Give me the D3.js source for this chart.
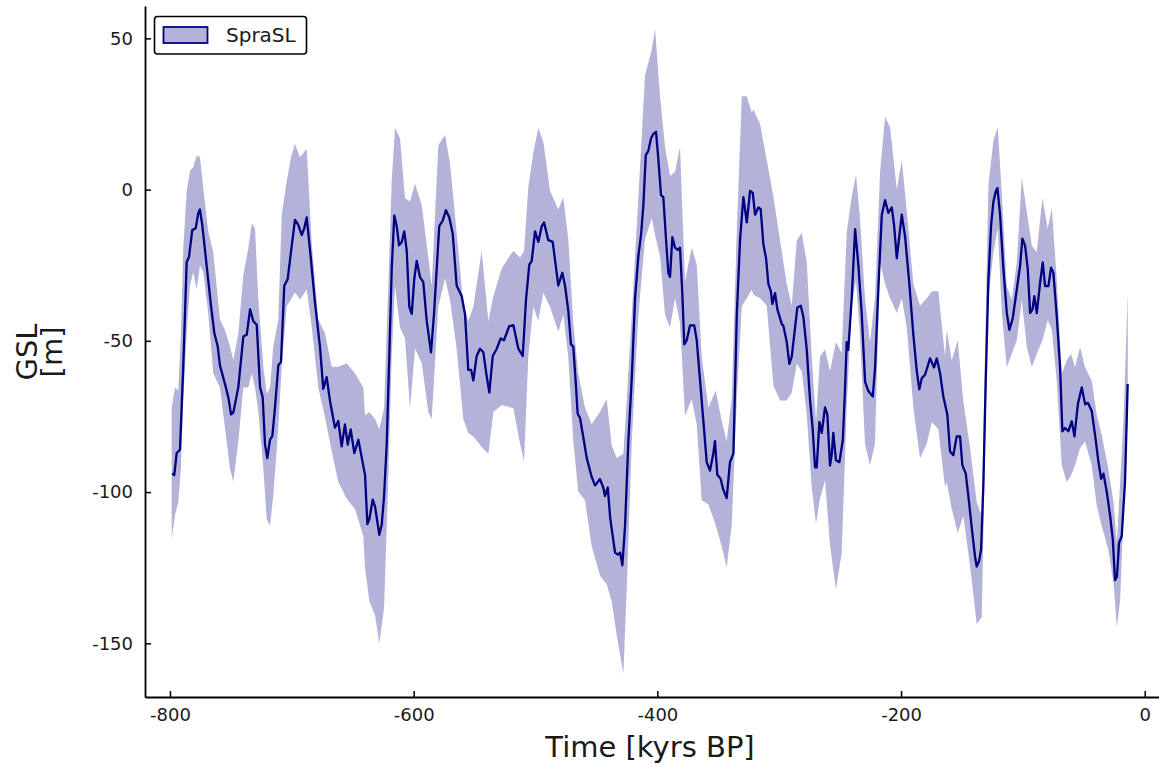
<!DOCTYPE html>
<html>
<head>
<meta charset="utf-8">
<script src="https://cdn.jsdelivr.net/npm/d3@7"></script>
<style>
  html, body { margin: 0; padding: 0; background: #ffffff; }
  svg { display: block; }
  text { font-family: "DejaVu Sans", sans-serif; }
</style>
</head>
<body>
<svg id="chart" width="1159" height="771"></svg>
<script>
// ---------------- data ----------------
const seriesName = "SpraSL";
const xLabel = "Time [kyrs BP]";
const yLabelLines = ["GSL", "[m]"];
const xTicks = [-800, -600, -400, -200, 0];
const yTicks = [50, 0, -50, -100, -150];

// central estimate of global sea level
const lineTime = [
-798.1,-796.5,-794.5,-791.8,-789.1,-786.3,-784.4,-781.7,-778.9,-776.8,-775.4,-773.5,-769.9,-766.3,-763.6,-760.8,-759.0,-754.9,-752.1,-749.9,
-748.0,-743.9,-739.8,-737.0,-734.3,-731.6,-728.8,-726.1,-723.9,-722.0,-720.1,-717.9,-716.0,-713.8,-711.1,-708.9,-706.2,-703.4,-700.7,-697.4,
-694.7,-691.9,-689.8,-687.8,-684.5,-681.0,-676.9,-674.2,-671.4,-668.7,-664.6,-661.9,-659.1,-656.4,-654.1,-651.7,-648.7,-645.4,-639.9,-638.0,
-636.4,-633.6,-631.7,-628.2,-626.2,-624.3,-622.1,-620.0,-618.0,-615.9,-613.9,-612.0,-609.8,-607.7,-605.7,-603.6,-601.6,-599.5,-597.5,-594.8,
-592.1,-589.3,-585.8,-583.3,-579.0,-576.2,-573.5,-570.8,-568.0,-564.7,-560.6,-557.9,-555.2,-552.9,-551.0,-548.3,-545.6,-542.8,-540.0,-537.9,
-535.1,-531.8,-528.6,-525.9,-521.5,-518.2,-514.1,-510.5,-507.8,-505.1,-503.1,-500.4,-497.7,-494.9,-493.0,-489.5,-485.9,-481.3,-478.0,-475.8,
-473.1,-470.9,-469.0,-467.0,-465.4,-463.5,-460.8,-458.0,-453.9,-451.2,-447.1,-444.4,-443.0,-440.7,-438.8,-436.9,-434.7,-432.5,-430.6,-428.7,
-426.5,-423.8,-421.0,-418.3,-415.6,-413.4,-411.5,-409.5,-407.4,-405.2,-403.3,-401.1,-399.2,-397.0,-395.1,-392.9,-391.0,-389.6,-387.7,-385.5,
-383.3,-381.4,-379.5,-377.9,-375.9,-373.2,-369.7,-367.7,-365.0,-362.3,-359.5,-356.8,-354.1,-352.7,-350.8,-348.0,-345.9,-343.1,-340.4,-337.6,
-334.8,-332.1,-329.4,-326.6,-323.9,-321.7,-319.8,-317.1,-315.2,-313.0,-310.8,-308.9,-306.9,-305.6,-303.4,-301.5,-297.9,-296.6,-293.8,-291.7,
-289.7,-287.0,-285.1,-282.3,-280.2,-277.4,-274.7,-272.5,-270.6,-269.2,-267.0,-265.1,-262.4,-260.5,-258.3,-256.9,-255.6,-253.4,-250.6,-247.8,
-246.0,-244.6,-243.3,-240.5,-237.7,-235.0,-232.3,-229.5,-226.8,-223.2,-221.3,-218.6,-215.8,-213.1,-210.4,-207.6,-205.7,-203.5,-199.4,-196.7,
-193.2,-189.9,-187.1,-185.0,-183.0,-180.3,-176.2,-172.9,-170.7,-168.0,-165.3,-162.0,-159.8,-157.1,-154.3,-151.6,-149.7,-146.9,-144.2,-141.5,
-139.3,-137.9,-136.0,-134.3,-132.4,-130.5,-128.3,-126.1,-124.2,-122.3,-120.9,-118.7,-116.0,-113.2,-111.1,-108.3,-105.0,-102.3,-100.4,-98.2,
-96.0,-94.1,-92.2,-90.6,-88.6,-85.9,-83.7,-81.8,-79.1,-76.9,-75.0,-72.2,-69.5,-67.6,-65.4,-62.7,-59.9,-57.7,-54.9,-51.7,
-48.9,-46.7,-43.5,-40.8,-38.0,-35.8,-33.9,-31.1,-28.4,-26.2,-24.4,-22.8,-21.1,-18.9,-16.2,-14.0
];
const lineGSL = [
-93.8,-94.4,-87.1,-86.0,-58.6,-24.0,-22.3,-13.4,-12.8,-7.8,-6.6,-11.7,-25.1,-38.5,-47.4,-51.9,-58.1,-64.2,-68.7,-74.3,
-73.7,-65.3,-48.6,-48.0,-39.6,-43.5,-44.7,-65.3,-68.7,-84.3,-88.8,-82.7,-81.5,-72.0,-58.1,-57.0,-31.8,-29.6,-20.6,-10.0,
-11.7,-15.0,-12.8,-9.2,-22.3,-37.4,-51.9,-65.9,-62.0,-69.8,-78.7,-76.5,-84.9,-77.6,-84.3,-79.3,-87.1,-82.7,-94.4,-110.6,
-109.0,-102.5,-104.8,-114.1,-110.7,-101.4,-84.0,-55.0,-26.0,-8.6,-12.1,-18.4,-17.3,-13.8,-20.2,-38.7,-41.1,-29.5,-23.6,-28.9,
-30.6,-43.4,-53.8,-41.1,-12.1,-10.3,-6.8,-9.2,-14.4,-31.8,-35.2,-41.1,-59.6,-59.6,-63.1,-55.0,-52.6,-53.8,-61.9,-67.1,
-55.0,-52.6,-49.2,-49.8,-45.1,-44.8,-52.6,-55.0,-36.4,-24.8,-23.6,-13.8,-17.3,-12.1,-10.9,-16.7,-17.3,-31.7,-27.5,-31.7,
-40.0,-51.2,-51.9,-63.7,-74.1,-75.5,-81.8,-88.7,-95.0,-97.8,-95.7,-98.5,-101.3,-98.5,-108.2,-113.8,-120.0,-120.7,-120.0,-124.2,
-111.0,-83.2,-62.3,-35.9,-22.0,-15.0,-5.3,11.4,12.8,17.0,18.4,19.1,10.1,-1.8,-2.5,-16.4,-27.5,-28.9,-15.7,-19.2,
-19.9,-19.2,-34.5,-51.2,-49.8,-44.9,-44.9,-49.8,-63.0,-76.2,-90.1,-92.9,-87.3,-83.2,-94.3,-95.7,-99.2,-102.0,-90.1,-87.3,
-41.4,-16.4,-2.5,-10.8,-0.4,-1.1,-8.3,-5.9,-6.5,-18.0,-22.7,-31.2,-33.6,-37.8,-34.2,-39.6,-44.4,-45.0,-50.4,-57.6,
-55.2,-45.6,-39.0,-38.4,-42.0,-52.8,-69.6,-79.2,-91.8,-91.8,-76.8,-80.4,-72.0,-74.4,-91.2,-87.6,-80.4,-89.5,-90.1,-82.8,
-66.0,-50.4,-53.0,-36.0,-13.1,-25.2,-40.8,-63.6,-66.6,-68.4,-58.8,-32.4,-8.3,-3.5,-7.7,-5.9,-11.9,-22.7,-8.3,-15.5,
-31.2,-48.0,-60.0,-66.0,-62.4,-61.2,-55.8,-58.8,-55.8,-60.6,-68.4,-74.4,-86.6,-87.8,-81.6,-81.6,-91.1,-93.9,-103.4,-113.5,
-121.3,-124.6,-122.9,-119.0,-96.7,-63.2,-29.7,-11.8,-4.0,-0.6,0.5,-8.4,-26.3,-40.8,-46.4,-42.5,-33.0,-25.2,-16.2,-18.5,
-26.3,-40.8,-39.7,-35.2,-40.8,-30.8,-24.1,-31.9,-31.9,-25.8,-27.4,-42.0,-58.7,-79.9,-78.8,-79.9,-76.6,-81.6,-71.0,-65.4,
-71.0,-70.5,-73.2,-81.1,-90.0,-95.6,-93.9,-100.1,-107.9,-115.7,-129.1,-128.0,-116.8,-114.6,-96.7,-64.3
];

// uncertainty band (upper and lower edges)
const bandTime = [
-798.6,-795.9,-793.2,-791.0,-789.1,-786.3,-783.6,-780.9,-778.1,-775.4,-772.7,-768.6,-764.5,-759.0,-754.9,-750.8,-748.0,-743.9,-739.8,-735.7,
-732.9,-730.2,-727.5,-723.4,-720.6,-717.9,-715.2,-711.1,-708.3,-704.2,-700.7,-697.4,-693.3,-687.8,-683.7,-678.3,-672.8,-667.3,-661.9,-655.0,
-648.2,-641.3,-640.0,-636.4,-631.7,-628.2,-624.3,-620.8,-618.0,-615.3,-611.2,-607.1,-603.0,-598.9,-593.4,-588.0,-585.2,-579.8,-574.3,-570.2,
-564.7,-559.3,-555.2,-551.0,-544.2,-538.7,-534.6,-527.7,-518.2,-512.7,-509.4,-505.9,-501.8,-497.7,-493.6,-488.1,-481.3,-477.2,-473.1,-469.0,
-464.9,-459.4,-453.9,-447.0,-441.6,-437.5,-433.4,-427.9,-425.1,-421.0,-415.6,-410.1,-404.6,-401.9,-397.8,-393.7,-389.6,-385.5,-381.4,-377.3,
-371.8,-367.7,-363.6,-358.2,-352.1,-347.2,-343.1,-339.0,-334.8,-330.7,-326.7,-322.5,-321.2,-315.7,-310.2,-304.8,-299.3,-293.8,-289.7,-285.6,
-281.5,-277.4,-273.3,-269.8,-266.5,-262.4,-258.3,-253.4,-248.7,-244.6,-240.5,-237.0,-233.7,-229.6,-225.5,-221.4,-217.2,-213.1,-209.0,-203.5,
-199.4,-195.3,-189.9,-184.4,-178.9,-174.8,-169.4,-163.9,-162.5,-158.4,-153.5,-148.9,-143.3,-137.9,-133.8,-131.0,-128.3,-124.2,-120.6,-117.3,
-113.2,-109.1,-105.0,-100.9,-96.8,-92.7,-88.6,-84.0,-79.6,-76.3,-72.2,-68.1,-64.0,-60.5,-57.2,-53.1,-49.0,-43.5,-39.4,-35.3,
-29.9,-25.6,-22.9,-20.2,-17.5,-13.9
];
const bandUpper = [
-72.0,-65.4,-66.4,-47.5,-19.4,-0.6,6.2,7.4,11.3,10.7,0.6,-13.8,-20.7,-42.9,-46.4,-51.8,-56.4,-47.5,-28.3,-19.4,
-11.1,-12.8,-36.3,-58.6,-67.6,-65.4,-51.8,-42.9,-8.3,2.8,10.7,15.1,10.7,13.5,-17.3,-42.9,-47.5,-58.6,-58.6,-57.4,
-60.7,-65.4,-74.6,-73.5,-75.8,-79.2,-72.3,-31.6,3.1,20.4,17.0,-2.8,-3.9,1.9,-5.1,-22.4,-31.8,14.6,18.1,8.8,
-14.4,-37.6,-43.4,-38.7,-20.2,-43.4,-35.3,-26.0,-20.2,-22.5,-20.2,0.8,12.3,20.4,15.8,-0.5,-6.5,-2.5,-16.4,-44.2,
-60.9,-72.0,-77.6,-73.4,-69.3,-84.5,-88.7,-87.3,-69.3,-41.4,-2.5,37.9,46.2,53.2,30.9,14.2,4.5,5.9,14.2,-30.3,
-19.2,-24.7,-55.3,-72.0,-66.5,-76.3,-83.2,-69.3,-13.6,30.9,30.9,25.4,26.5,21.7,9.7,-2.3,-16.8,-31.2,-38.4,-16.8,
-14.3,-24.0,-55.2,-76.8,-55.2,-52.8,-60.0,-50.4,-54.0,-14.3,-2.3,4.9,-9.5,-35.9,-50.4,-35.9,6.0,24.1,20.5,0.1,
9.7,-7.1,-31.2,-38.4,-35.9,-33.6,-33.6,-55.2,-46.4,-56.4,-49.8,-69.9,-85.5,-103.4,-107.9,-52.0,1.6,16.2,20.6,-1.7,
-31.9,-36.4,-24.0,3.9,-7.3,-18.5,-20.7,-2.8,-12.9,-6.2,-29.7,-60.9,-56.4,-54.3,-58.7,-52.0,-58.7,-63.2,-74.4,-81.1,
-92.2,-103.4,-116.8,-96.7,-76.6,-34.1
];
const bandLower = [
-115.6,-107.7,-103.4,-92.1,-69.7,-47.5,-31.8,-27.3,-33.0,-25.0,-27.3,-40.8,-60.7,-65.4,-78.7,-92.1,-96.6,-83.2,-65.4,-65.4,
-60.7,-65.4,-73.2,-92.1,-109.0,-111.1,-101.1,-78.7,-58.6,-38.5,-36.3,-34.0,-36.3,-33.0,-45.2,-65.4,-75.3,-86.5,-96.6,-102.2,
-105.6,-114.5,-124.5,-136.1,-140.7,-150.0,-138.4,-95.4,-55.0,-31.8,-45.7,-49.2,-72.3,-52.6,-57.3,-73.5,-75.8,-38.7,-29.5,-36.4,
-52.6,-75.8,-80.5,-81.6,-85.1,-87.4,-73.5,-71.2,-72.3,-84.0,-89.8,-55.0,-38.7,-43.4,-34.1,-38.7,-47.0,-41.4,-55.3,-83.2,
-99.9,-102.7,-117.9,-127.7,-130.5,-136.0,-147.2,-160.0,-131.8,-83.2,-41.4,-16.4,-9.4,-15.0,-22.0,-41.4,-45.6,-35.9,-44.2,-74.8,
-69.3,-77.6,-102.7,-104.0,-111.0,-117.9,-124.9,-111.0,-69.3,-38.6,-35.9,-33.1,-34.8,-35.9,-38.4,-64.8,-69.7,-69.7,-67.2,-57.6,
-60.0,-74.4,-98.4,-110.5,-102.1,-96.1,-117.7,-132.1,-120.1,-72.0,-38.4,-30.0,-48.0,-84.0,-91.2,-84.0,-24.0,-31.2,-35.9,-40.8,
-35.9,-45.6,-72.0,-88.8,-84.0,-76.8,-79.2,-98.4,-96.7,-105.6,-113.5,-107.9,-124.6,-143.6,-141.4,-85.5,-36.4,-20.7,-12.9,-40.8,
-58.7,-54.3,-49.8,-36.4,-52.0,-58.7,-54.3,-49.8,-43.1,-46.4,-63.2,-91.1,-96.7,-94.5,-91.1,-85.5,-83.2,-91.1,-104.5,-111.2,
-119.0,-130.2,-144.7,-135.8,-107.9,-74.4
];

// ---------------- drawing ----------------
const svg = d3.select("#chart");
const plot = { left: 145, right: 1159, top: 6, bottom: 697 };

const x = d3.scaleLinear().domain([-820.5, 11.7]).range([plot.left, plot.right]);
const y = d3.scaleLinear().domain([-167.75, 60.7]).range([plot.bottom, plot.top]);

const navy = "#000080";
const bandFill = "#b3b3d9";

const bandData = bandTime.map((t, i) => ({ t, u: bandUpper[i], l: bandLower[i] }));
const lineData = lineTime.map((t, i) => ({ t, v: lineGSL[i] }));

svg.append("path")
  .datum(bandData)
  .attr("fill", bandFill)
  .attr("stroke", "none")
  .attr("d", d3.area().x(d => x(d.t)).y0(d => y(d.l)).y1(d => y(d.u)));

svg.append("path")
  .datum(lineData)
  .attr("fill", "none")
  .attr("stroke", navy)
  .attr("stroke-width", 2.3)
  .attr("stroke-linejoin", "round")
  .attr("d", d3.line().x(d => x(d.t)).y(d => y(d.v)));

// axes
const fmt = d => String(d);
const gx = svg.append("g")
  .attr("transform", `translate(0,${plot.bottom})`)
  .call(d3.axisBottom(x).tickValues(xTicks).tickFormat(fmt).tickSize(-6).tickSizeOuter(0).tickPadding(11));
const gy = svg.append("g")
  .attr("transform", `translate(${plot.left},0)`)
  .call(d3.axisLeft(y).tickValues(yTicks).tickFormat(fmt).tickSize(-6).tickSizeOuter(0).tickPadding(12));

[gx, gy].forEach(g => {
  g.select(".domain").attr("stroke", "#000").attr("stroke-width", 1.8);
  g.selectAll(".tick line").attr("stroke", "#000").attr("stroke-width", 1.5);
  g.selectAll(".tick text")
    .attr("fill", "#1a1a1a")
    .style("font-family", "'DejaVu Sans', sans-serif")
    .style("font-size", "18px");
});

// axis titles
svg.append("text")
  .attr("x", 650).attr("y", 757)
  .attr("text-anchor", "middle")
  .attr("fill", "#1a1a1a")
  .style("font-size", "29px")
  .text(xLabel);

yLabelLines.forEach((s, i) => {
  svg.append("text")
    .attr("transform", `translate(${37 + i * 25},352) rotate(-90)`)
    .attr("text-anchor", "middle")
    .attr("fill", "#1a1a1a")
    .style("font-size", "29px")
    .text(s);
});

// legend
const lg = svg.append("g");
lg.append("rect")
  .attr("x", 154.5).attr("y", 16.5).attr("width", 152).attr("height", 37.5)
  .attr("rx", 3).attr("ry", 3)
  .attr("fill", "#fff").attr("stroke", "#000").attr("stroke-width", 1.6);
lg.append("rect")
  .attr("x", 163.5).attr("y", 27).attr("width", 44).attr("height", 16)
  .attr("fill", bandFill).attr("stroke", navy).attr("stroke-width", 1.8);
lg.append("text")
  .attr("x", 226).attr("y", 42)
  .attr("fill", "#1a1a1a")
  .style("font-size", "20px")
  .text(seriesName);
</script>
</body>
</html>
